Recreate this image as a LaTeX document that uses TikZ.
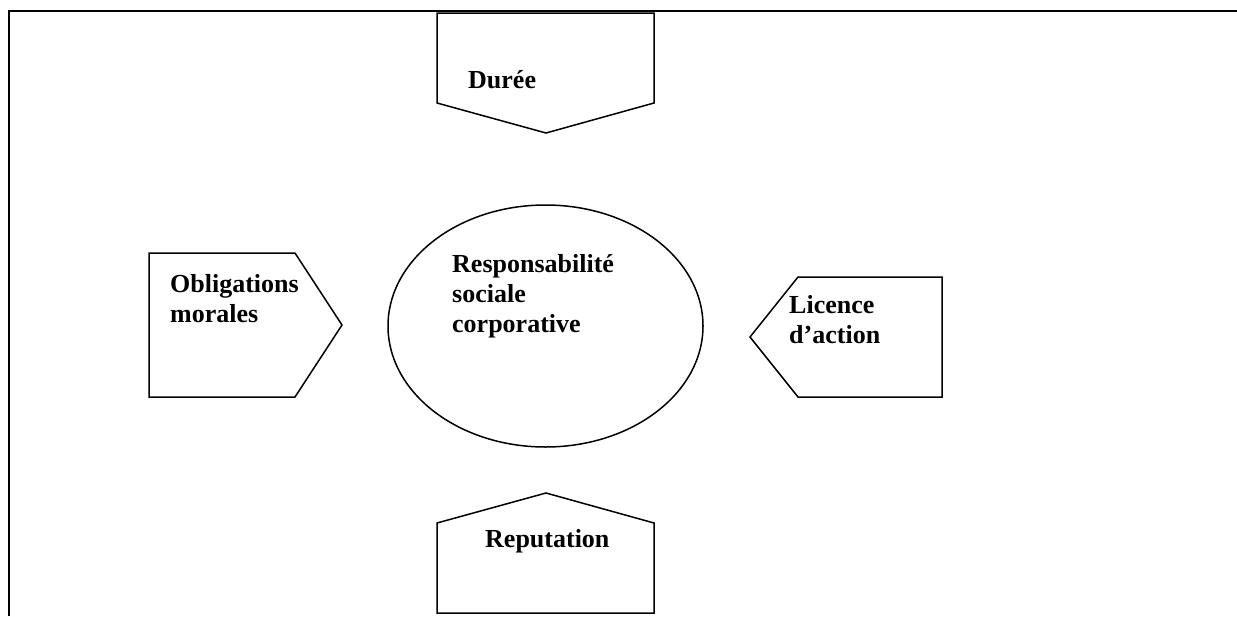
\documentclass[tikz,border=0pt]{standalone}
\usepackage{fontspec}
\setmainfont{Liberation Serif}
\begin{document}
\begin{tikzpicture}[x=1pt,y=-1pt,
  frameline/.style={line width=2.2pt},
  shapeline/.style={line width=1.5pt, line join=miter},
  lbl/.style={anchor=base west, inner sep=0pt, align=left,
    font=\fontsize{26}{30}\selectfont\bfseries}]
\useasboundingbox (0,0) rectangle (1237,616);
% frame
\draw[frameline] (9,616) -- (9,11) -- (1237,11);
% Duree (pentagon pointing down)
\draw[shapeline] (437,13) -- (654,13) -- (654,103) -- (546,133) -- (437,103) -- cycle;
\node[lbl] (duree) at (468,88) {Durée};
% Obligations morales (pointing right)
\draw[shapeline] (149,253) -- (295,253) -- (342,325) -- (295,397) -- (149,397) -- cycle;
\node[lbl] (oblig) at (170,322) {Obligations\\morales};
% Licence d'action (pointing left)
\draw[shapeline] (750,337) -- (798,277) -- (942,277) -- (942,397) -- (798,397) -- cycle;
\node[lbl] (licence) at (789,343) {Licence\\d’action};
% Reputation (pointing up)
\draw[shapeline] (437,613) -- (437,523) -- (546,493) -- (654,523) -- (654,613) -- cycle;
\node[lbl] (reput) at (485,547) {Reputation};
% central ellipse
\draw[shapeline] (545.5,326) ellipse [x radius=157.5, y radius=121];
\node[lbl] (rsc) at (452,332) {Responsabilité\\sociale\\corporative};
\end{tikzpicture}
\end{document}
